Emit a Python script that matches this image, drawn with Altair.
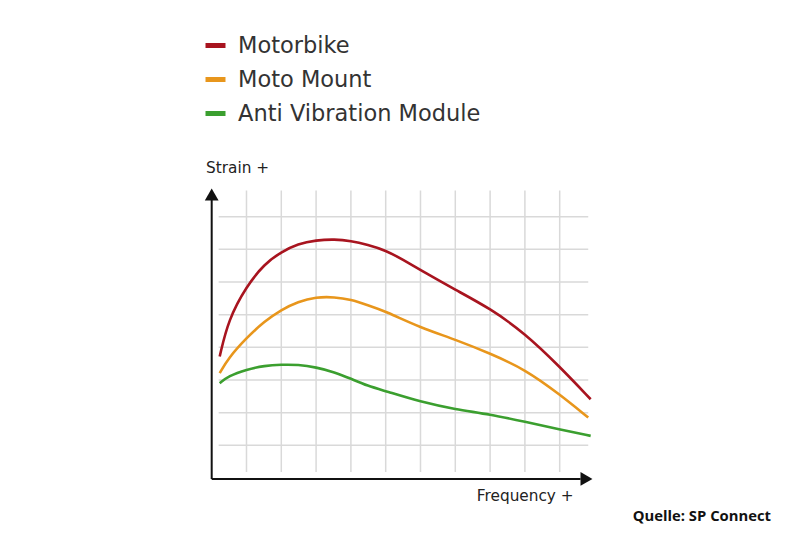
import altair as alt
import pandas as pd

# ---- data (grid units) ----
series_names = ["Motorbike", "Moto Mount", "Anti Vibration Module"]
series_colors = ["#a8141f", "#e8961c", "#3b9f2f"]

motorbike_x = [0.23, 0.48, 1.0, 1.52, 2.0, 2.48, 3.0, 3.53, 4.0, 4.48, 5.0, 5.5, 6.0, 7.0, 8.0, 9.0, 10.0, 10.89]
motorbike_y = [3.72, 4.85, 5.87, 6.56, 6.92, 7.17, 7.28, 7.31, 7.26, 7.14, 6.97, 6.68, 6.36, 5.76, 5.19, 4.43, 3.41, 2.41]

mount_x = [0.23, 0.48, 1.0, 1.52, 2.0, 2.48, 3.0, 3.53, 4.0, 4.48, 5.0, 6.0, 7.0, 8.0, 9.0, 10.0, 10.82]
mount_y = [3.21, 3.67, 4.29, 4.80, 5.15, 5.40, 5.54, 5.54, 5.46, 5.29, 5.10, 4.60, 4.24, 3.81, 3.33, 2.56, 1.85]

avm_x = [0.23, 0.48, 1.0, 1.52, 2.0, 2.48, 3.0, 3.53, 4.0, 4.48, 5.0, 6.0, 7.0, 8.0, 9.0, 10.0, 10.89]
avm_y = [2.90, 3.12, 3.32, 3.44, 3.47, 3.47, 3.39, 3.24, 3.04, 2.82, 2.66, 2.33, 2.10, 1.95, 1.72, 1.49, 1.29]

grid_x = [1, 2, 3, 4, 5, 6, 7, 8, 9, 10]
grid_y = [1, 2, 3, 4, 5, 6, 7, 8]

x_label = "Frequency +"
y_label = "Strain +"
source_label = "Quelle: SP Connect"

# ---- tables ----
rows = []
for name, xs_, ys_ in [(series_names[0], motorbike_x, motorbike_y),
                       (series_names[1], mount_x, mount_y),
                       (series_names[2], avm_x, avm_y)]:
    for i, (a, b) in enumerate(zip(xs_, ys_)):
        rows.append({"series": name, "x": a, "y": b, "i": i})
lines_df = pd.DataFrame(rows)

vgrid = pd.DataFrame({"x": grid_x, "y": [0.18] * len(grid_x), "y2": [8.8] * len(grid_x)})
hgrid = pd.DataFrame({"y": grid_y, "x": [0.2] * len(grid_y), "x2": [10.82] * len(grid_y)})

# pixel mapping: x_px = 211.7 + 34.8*x ; y_px = 478 - 32.67*y
X_DOM = [-6.083, 16.905]
Y_DOM = [-1.6835, 14.631]
xs = alt.Scale(domain=X_DOM, nice=False, zero=False)
ys = alt.Scale(domain=Y_DOM, nice=False, zero=False)

def X(f="x"):
    return alt.X(f"{f}:Q", scale=xs, axis=None)

def Y(f="y"):
    return alt.Y(f"{f}:Q", scale=ys, axis=None)

grid_color = "#d9d9d9"
v_rules = alt.Chart(vgrid).mark_rule(color=grid_color, strokeWidth=1.5).encode(
    x=X(), y=Y(), y2="y2:Q")
h_rules = alt.Chart(hgrid).mark_rule(color=grid_color, strokeWidth=1.5).encode(
    y=Y(), x=X(), x2="x2:Q")

axes_df = pd.DataFrame({"x": [0, 0], "y": [-0.03, -0.03], "x2": [0, 10.6], "y2": [8.6, -0.03]})
axes = alt.Chart(axes_df).mark_rule(color="#111111", strokeWidth=2).encode(
    x=X(), y=Y(), x2="x2:Q", y2="y2:Q")

arrow_up = alt.Chart(pd.DataFrame({"x": [0], "y": [8.68]})).mark_point(
    shape="triangle-up", filled=True, color="#111111", size=190, opacity=1).encode(x=X(), y=Y())
arrow_right = alt.Chart(pd.DataFrame({"x": [10.77], "y": [-0.03]})).mark_point(
    shape="triangle-right", filled=True, color="#111111", size=190, opacity=1).encode(x=X(), y=Y())

lines = alt.Chart(lines_df).mark_line(interpolate="basis", strokeWidth=2.6).encode(
    x=X(), y=Y(),
    order="i:Q",
    color=alt.Color("series:N",
                    scale=alt.Scale(domain=series_names, range=series_colors),
                    legend=alt.Legend(title=None, orient="none", legendX=203, legendY=33,
                                      symbolType="stroke", symbolStrokeWidth=5, symbolSize=400,
                                      labelFont="DejaVu Sans", labelFontSize=22.5, labelColor="#333333",
                                      labelOffset=10, rowPadding=10, labelLimit=400)))

texts_df = pd.DataFrame({
    "t": [y_label, x_label],
    "x": [-0.16, 7.62],
    "y": [9.5, -0.55],
})
texts = alt.Chart(texts_df).mark_text(
    align="left", baseline="middle", font="DejaVu Sans", fontSize=15.3, color="#222222").encode(
    x=X(), y=Y(), text="t:N")

src = alt.Chart(pd.DataFrame({"t": [source_label], "x": [12.1], "y": [-1.19]})).mark_text(
    align="left", baseline="middle", font="Open Sans", fontSize=14.8, fontWeight="bold",
    color="#111111").encode(x=X(), y=Y(), text="t:N")

chart = alt.layer(h_rules, v_rules, axes, arrow_up, arrow_right, lines, texts, src).properties(
    width=800, height=533, padding=0, autosize=alt.AutoSizeParams(type="none"),
    background="#ffffff"
).configure_view(stroke=None)

chart.save("out.html", embed_options={"renderer": "svg", "actions": False})
